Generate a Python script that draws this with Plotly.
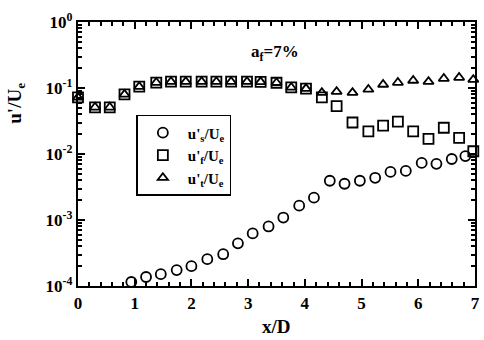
import plotly.graph_objects as go

# streamwise positions (x/D) shared by the f and t series
x_ft = [0.00, 0.30, 0.56, 0.82, 1.08, 1.38, 1.64, 1.90, 2.18, 2.44, 2.70, 2.98, 3.22,
        3.50, 3.76, 4.02, 4.30, 4.56, 4.84, 5.12, 5.38, 5.64, 5.91, 6.18, 6.45, 6.72, 6.97]
u_f = [0.072, 0.051, 0.051, 0.080, 0.105, 0.121, 0.125, 0.125, 0.125, 0.125, 0.125, 0.125, 0.124,
       0.120, 0.102, 0.098, 0.072, 0.053, 0.030, 0.022, 0.027, 0.031, 0.022, 0.017, 0.025, 0.0175, 0.011]
u_t = [0.072, 0.051, 0.051, 0.080, 0.105, 0.121, 0.125, 0.125, 0.125, 0.125, 0.125, 0.125, 0.124,
       0.120, 0.102, 0.098, 0.085, 0.088, 0.085, 0.095, 0.113, 0.121, 0.130, 0.125, 0.139, 0.144, 0.134]

# positions and values of the s series
x_s = [0.94, 1.20, 1.46, 1.74, 2.00, 2.28, 2.56, 2.82, 3.08, 3.36, 3.62, 3.90,
       4.16, 4.44, 4.70, 4.97, 5.24, 5.51, 5.78, 6.06, 6.32, 6.59, 6.83]
u_s = [1.15e-4, 1.37e-4, 1.51e-4, 1.74e-4, 2.0e-4, 2.55e-4, 3.03e-4, 4.43e-4, 6.26e-4, 7.98e-4,
       1.09e-3, 1.65e-3, 2.18e-3, 3.93e-3, 3.54e-3, 3.93e-3, 4.36e-3, 5.36e-3, 5.55e-3, 7.33e-3,
       7.1e-3, 8.4e-3, 9.3e-3]

x_ticks = [0, 1, 2, 3, 4, 5, 6, 7]
y_ticks = [1e-4, 1e-3, 1e-2, 1e-1, 1]
y_ticktext = ["10<sup>-4</sup>", "10<sup>-3</sup>", "10<sup>-2</sup>", "10<sup>-1</sup>", "10<sup>0</sup>"]

FONT = "Liberation Serif"

def series(x, y, symbol, name, size):
    return go.Scatter(
        x=x, y=y, mode="markers", name=name, cliponaxis=False,
        marker=dict(symbol=symbol, size=size, color="black",
                    line=dict(color="black", width=1.8)),
    )

fig = go.Figure()
fig.add_trace(series(x_s, u_s, "circle-open", "u'<sub>s</sub>/U<sub>e</sub>", 10))
fig.add_trace(series(x_ft, u_f, "square-open", "u'<sub>f</sub>/U<sub>e</sub>", 10))
fig.add_trace(series(x_ft, u_t, "triangle-up-open", "u'<sub>t</sub>/U<sub>e</sub>", 9))

axis_common = dict(
    showline=True, linecolor="black", linewidth=2.2, mirror="allticks",
    ticks="inside", tickcolor="black", tickwidth=2, ticklen=7,
    showgrid=False, zeroline=False,
    tickfont=dict(family=FONT, size=17, color="black", weight="bold"),
)

fig.update_layout(
    width=484, height=340,
    margin=dict(l=78, r=4, t=22, b=54),
    paper_bgcolor="white", plot_bgcolor="white",
    font=dict(family=FONT, color="black", weight="bold"),
    showlegend=True,
    legend=dict(
        x=0.147, y=0.648, xanchor="left", yanchor="top",
        bgcolor="white", bordercolor="black", borderwidth=1.5,
        font=dict(family=FONT, size=15, color="black", weight="bold"),
        itemwidth=40, tracegroupgap=0,
    ),
    xaxis=dict(
        range=[0, 7], tickvals=x_ticks,
        minor=dict(ticks="inside", dtick=0.2, ticklen=4, tickwidth=1.5, tickcolor="black"),
        **axis_common,
    ),
    yaxis=dict(
        type="log", range=[-4, 0], tickvals=y_ticks, ticktext=y_ticktext,
        minor=dict(ticks="inside", dtick="D1", ticklen=4, tickwidth=1.5, tickcolor="black"),
        **axis_common,
    ),
    annotations=[
        dict(text="x/D", xref="paper", yref="paper", x=0.5, y=-0.155,
             xanchor="center", yanchor="middle", showarrow=False,
             font=dict(family=FONT, size=19, color="black", weight="bold")),
        dict(text="u'/U<sub>e</sub>", xref="paper", yref="paper", x=-0.157, y=0.693,
             xanchor="center", yanchor="middle", showarrow=False, textangle=-90,
             font=dict(family=FONT, size=19, color="black", weight="bold")),
        dict(text="a<sub>f</sub>=7%", xref="x", yref="paper", x=3.47, y=0.883,
             xanchor="center", yanchor="middle", showarrow=False,
             font=dict(family=FONT, size=17, color="black", weight="bold")),
    ],
)

fig.write_html("out.html")
